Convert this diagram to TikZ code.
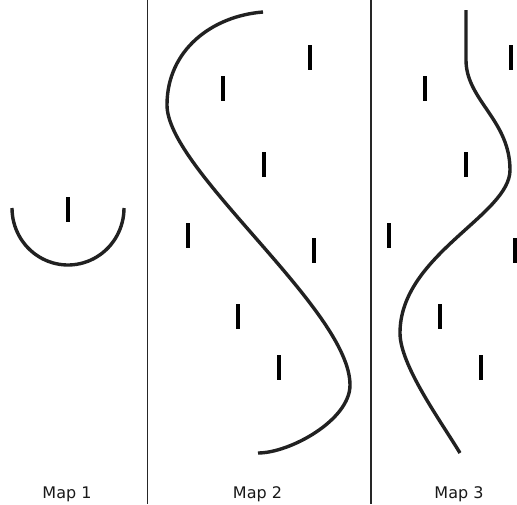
\documentclass[tikz,border=0pt]{standalone}
\usepackage{fontspec}
\setmainfont{DejaVu Sans}
\begin{document}
\begin{tikzpicture}[x=1pt,y=-1pt,
  curve/.style={draw=black!87,line width=3.4pt},
  bar/.style={draw=black,line width=4.4pt},
  divider/.style={draw=black!85,line width=1.6pt},
  maplabel/.style={anchor=base,inner sep=0pt,font=\fontsize{16}{19}\selectfont,text=black!90}]
\useasboundingbox[fill=white] (0,0) rectangle (517,504);
% dividers
\draw[divider] (147.5,0) -- (147.5,504);
\draw[divider] (371,0) -- (371,504);
% Map 1
\draw[bar] (68,197) -- (68,222);
\draw[curve] plot[domain=180:360,samples=50] ({68+56*cos(\x)},{208-57*sin(\x)});
% Map 2 bars
\foreach \bx/\by in {310/45,223/76,264/152,188/223,314/238,238/304,279/355}
  \draw[bar] (\bx,\by) -- (\bx,\by+25);
% Map 2 curve
\draw[curve] (263,12) .. controls (212,16) and (167,50) .. (167,105)
  .. controls (167,170) and (350,310) .. (350,385)
  .. controls (350,420) and (290,453) .. (258,453);
% Map 3 bars
\foreach \bx/\by in {511/45,425/76,466/152,389/223,515/238,440/304,481/355}
  \draw[bar] (\bx,\by) -- (\bx,\by+25);
% Map 3 curve
\draw[curve] (466,10) -- (466,60)
  .. controls (466,100) and (510,120) .. (510,170)
  .. controls (510,215) and (400,255) .. (400,333)
  .. controls (400,365) and (440,420) .. (460,453);
% labels
\node[maplabel] (m1) at (67,498.5) {Map 1};
\node[maplabel] (m2) at (257.5,498.5) {Map 2};
\node[maplabel] (m3) at (459,498.5) {Map 3};
\end{tikzpicture}
\end{document}
